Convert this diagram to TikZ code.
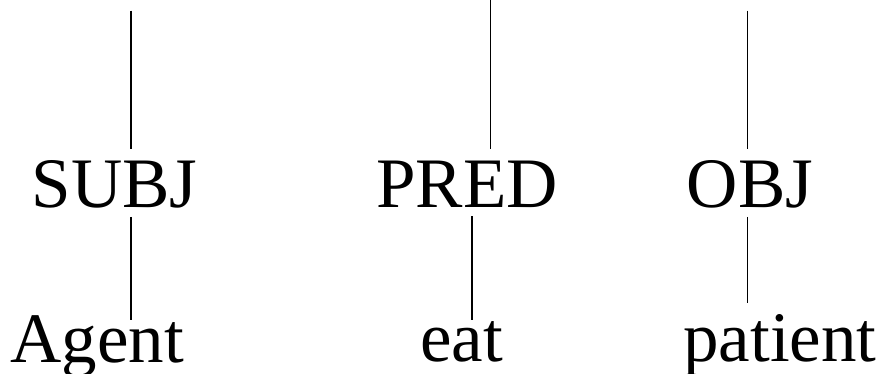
\documentclass[tikz,border=0pt]{standalone}
\usepackage{fontspec}
\setmainfont{Liberation Serif}
\usepackage{tikz}
\usetikzlibrary{calc}
\tikzset{word/.style={inner sep=0pt,anchor=base,font=\fontsize{71}{80}\selectfont},
	branch/.style={line width=1.4pt}}

\begin{document}
\begin{tikzpicture}[x=1pt,y=-1pt]
	\useasboundingbox (0,0) rectangle (881,374);
	% the function labels
	\node[word] (subj) at (114.5,208) {SUBJ};
	\node[word] (pred) at (467,208) {PRED};
	\node[word] (obj) at (750,208) {OBJ};
	% the fillers below them
	\node[word] (agent) at (97,362) {Agent};
	\node[word] (eat) at (461.5,361) {eat};
	\node[word] (patient) at (780,361) {patient};
	% free upper ends of the branches
	\coordinate (topS) at (131,10.7);
	\coordinate (topP) at (490.7,0);
	\coordinate (topO) at (747.7,10.7);
	\coordinate (lowP) at (472,0);
	% branches from above
	\draw[branch,shorten >=12pt] (topS) -- (topS |- subj.north);
	\draw[branch,shorten >=12pt] (topP) -- (topP |- pred.north);
	\draw[branch,shorten >=12pt] (topO) -- (topO |- obj.north);
	% branches down to the fillers
	\draw[branch,shorten <=8pt,shorten >=-5pt] (topS |- subj.south) -- (topS |- agent.north);
	\draw[branch,shorten <=8pt,shorten >=1pt] (lowP |- pred.south) -- (lowP |- eat.north);
	\draw[branch,shorten <=8pt,shorten >=10.5pt] (topO |- obj.south) -- (topO |- patient.north);
\end{tikzpicture}
\end{document}
